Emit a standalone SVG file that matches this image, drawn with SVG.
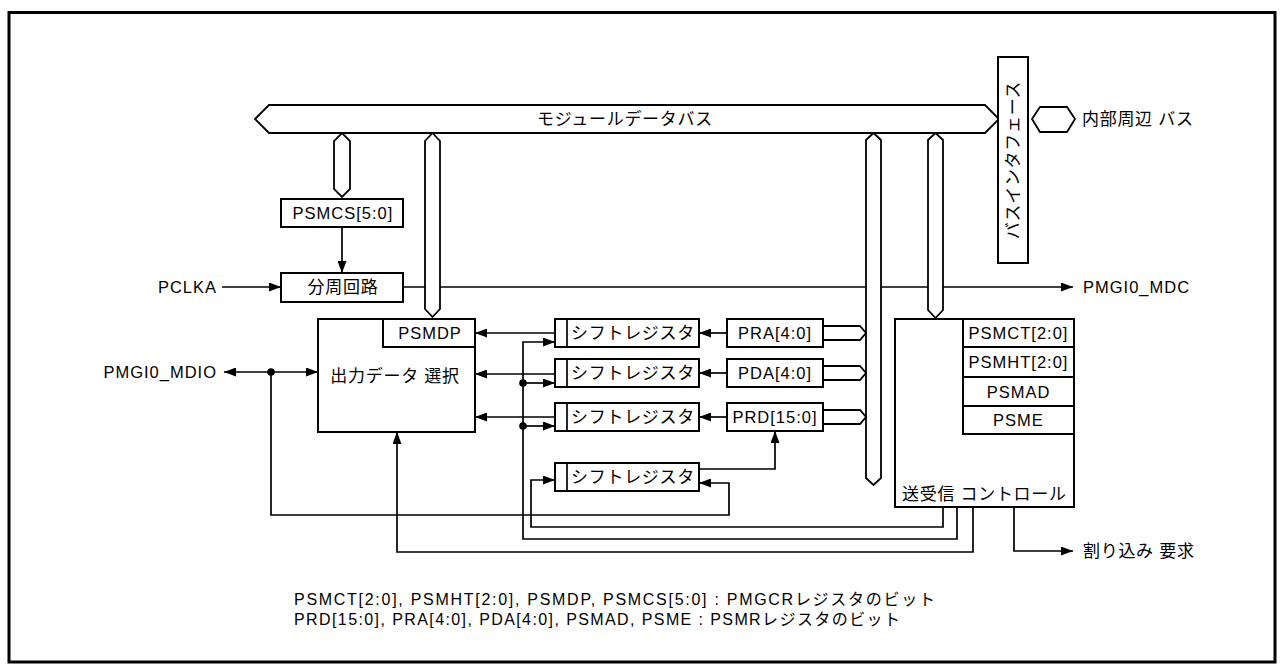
<svg xmlns="http://www.w3.org/2000/svg" width="1284" height="671" viewBox="0 0 1284 671">
<style>
  text { font-family: "Liberation Sans", "Noto Sans CJK JP", sans-serif; font-size: 16px; fill: #000; }
  .lat { font-size: 16.5px; letter-spacing: 1px; }
  .jp { font-size: 17px; letter-spacing: 0.7px; }
  .mid { text-anchor: middle; dominant-baseline: central; }
  .lft { dominant-baseline: central; }
  .box { fill: #fff; stroke: #000; stroke-width: 2; }
  .bus { fill: #fff; stroke: #000; stroke-width: 1.8; stroke-linejoin: miter; }
  .ln { fill: none; stroke: #000; stroke-width: 1.7; }
  .note { font-size: 16px; }
</style>
<defs>
  <marker id="ah" viewBox="0 0 12 9" refX="12" refY="4.5" markerWidth="12" markerHeight="9" markerUnits="userSpaceOnUse" orient="auto-start-reverse">
    <path d="M0,0 L12,4.5 L0,9 z" fill="#000"/>
  </marker>
</defs>

<rect id="frame" x="9" y="12.5" width="1266" height="649.5" fill="none" stroke="#000" stroke-width="3"/>

<g id="connectors">
  <line class="ln" x1="222" y1="287" x2="281" y2="287" marker-end="url(#ah)"/>
  <line class="ln" x1="342" y1="227" x2="342" y2="273" marker-end="url(#ah)"/>
  <line class="ln" x1="403" y1="287" x2="1073" y2="287" marker-end="url(#ah)"/>
  <line class="ln" x1="224" y1="372" x2="318" y2="372" marker-start="url(#ah)" marker-end="url(#ah)"/>
  <polyline class="ln" points="271,372 271,515 729,515 729,483 699,483" marker-end="url(#ah)"/>
  <line class="ln" x1="555" y1="333" x2="475" y2="333" marker-end="url(#ah)"/>
  <line class="ln" x1="555" y1="374" x2="475" y2="374" marker-end="url(#ah)"/>
  <line class="ln" x1="555" y1="417" x2="475" y2="417" marker-end="url(#ah)"/>
  <polyline class="ln" points="957,507 957,539 523,539 523,342 555,342" marker-end="url(#ah)"/>
  <line class="ln" x1="523" y1="383" x2="555" y2="383" marker-end="url(#ah)"/>
  <line class="ln" x1="523" y1="426" x2="555" y2="426" marker-end="url(#ah)"/>
  <polyline class="ln" points="943,507 943,527 531,527 531,480 555,480" marker-end="url(#ah)"/>
  <polyline class="ln" points="973,507 973,552 397,552 397,432" marker-end="url(#ah)"/>
  <line class="ln" x1="727" y1="333" x2="699" y2="333" marker-end="url(#ah)"/>
  <line class="ln" x1="727" y1="373" x2="699" y2="373" marker-end="url(#ah)"/>
  <line class="ln" x1="727" y1="417" x2="699" y2="417" marker-end="url(#ah)"/>
  <polyline class="ln" points="699,469 775,469 775,431" marker-end="url(#ah)"/>
  <polyline class="ln" points="1014,507 1014,551 1073,551" marker-end="url(#ah)"/>
  <circle cx="271" cy="372" r="3.8" fill="#000"/>
  <circle cx="523" cy="383" r="3.8" fill="#000"/>
  <circle cx="523" cy="426" r="3.8" fill="#000"/>
</g>

<g id="module-bus">
  <polygon class="bus" points="255,119 269,105 985,105 999,119 985,133 269,133"/>
  <text class="jp mid" x="625" y="119">モジュールデータバス</text>
</g>
<g id="bus-psmcs">
  <polygon class="bus" points="342,133 350,141 350,189 342,197 334,189 334,141"/>
</g>
<g id="bus-select">
  <polygon class="bus" points="432.5,133 440,141 440,309 432.5,317 425,309 425,141"/>
</g>
<g id="bus-regs">
  <polygon class="bus" points="873.5,133 881,140 881,478 873.5,485 866,478 866,140"/>
  <polygon class="bus" points="823,326 860,326 866,333 860,340 823,340"/>
  <polygon class="bus" points="823,366 860,366 866,373 860,380 823,380"/>
  <polygon class="bus" points="823,410 860,410 866,417 860,424 823,424"/>
</g>
<g id="bus-ctrl">
  <polygon class="bus" points="935.5,133 943,140 943,310 935.5,318 928,310 928,140"/>
</g>

<g id="bus-interface">
  <rect class="box" x="998" y="57" width="30" height="206"/>
  <text class="jp mid" transform="translate(1013,160) rotate(-90)">バスインタフェース</text>
</g>
<g id="internal-bus">
  <polygon class="bus" points="1032,119 1040,107 1067,107 1075,119 1067,132 1040,132"/>
  <text class="jp lft" x="1082" y="119">内部周辺 バス</text>
</g>

<g id="psmcs">
  <rect class="box" x="281" y="199" width="122" height="28"/>
  <text class="lat mid" x="343" y="213">PSMCS[5:0]</text>
</g>
<g id="divider">
  <rect class="box" x="281" y="273" width="122" height="29"/>
  <text class="jp mid" x="343" y="287.5">分周回路</text>
</g>
<g id="pclka">
  <text class="lat lft" x="217" y="287" text-anchor="end">PCLKA</text>
</g>
<g id="pmgi0-mdc">
  <text class="lat lft" x="1083" y="287">PMGI0_MDC</text>
</g>
<g id="pmgi0-mdio">
  <text class="lat lft" x="217" y="372" text-anchor="end">PMGI0_MDIO</text>
</g>

<g id="output-select">
  <rect class="box" x="318" y="319" width="157" height="113"/>
  <rect class="box" x="383" y="319" width="92" height="28"/>
  <text class="lat mid" x="430" y="333">PSMDP</text>
  <text class="jp mid" x="395" y="376">出力データ 選択</text>
</g>

<g id="shift1">
  <rect class="box" x="555" y="319" width="144" height="28"/>
  <line class="ln" x1="567" y1="319" x2="567" y2="347"/>
  <text class="jp mid" x="633" y="333">シフトレジスタ</text>
</g>
<g id="shift2">
  <rect class="box" x="555" y="359" width="144" height="28"/>
  <line class="ln" x1="567" y1="359" x2="567" y2="387"/>
  <text class="jp mid" x="633" y="373">シフトレジスタ</text>
</g>
<g id="shift3">
  <rect class="box" x="555" y="403" width="144" height="28"/>
  <line class="ln" x1="567" y1="403" x2="567" y2="431"/>
  <text class="jp mid" x="633" y="417">シフトレジスタ</text>
</g>
<g id="shift4">
  <rect class="box" x="555" y="463" width="144" height="28"/>
  <line class="ln" x1="567" y1="463" x2="567" y2="491"/>
  <text class="jp mid" x="633" y="477">シフトレジスタ</text>
</g>

<g id="pra">
  <rect class="box" x="727" y="319" width="96" height="28"/>
  <text class="lat mid" x="775" y="333">PRA[4:0]</text>
</g>
<g id="pda">
  <rect class="box" x="727" y="359" width="96" height="28"/>
  <text class="lat mid" x="775" y="373">PDA[4:0]</text>
</g>
<g id="prd">
  <rect class="box" x="727" y="403" width="96" height="28"/>
  <text class="lat mid" x="775" y="417">PRD[15:0]</text>
</g>

<g id="control">
  <rect class="box" x="895" y="319" width="179" height="188"/>
  <rect class="box" x="963" y="319" width="111" height="28"/>
  <rect class="box" x="963" y="347" width="111" height="30"/>
  <rect class="box" x="963" y="377" width="111" height="29"/>
  <rect class="box" x="963" y="406" width="111" height="28"/>
  <text class="lat mid" x="1018.5" y="333">PSMCT[2:0]</text>
  <text class="lat mid" x="1018.5" y="362">PSMHT[2:0]</text>
  <text class="lat mid" x="1018.5" y="391.5">PSMAD</text>
  <text class="lat mid" x="1018.5" y="420">PSME</text>
  <text class="jp lft" x="902" y="494">送受信 コントロール</text>
</g>

<g id="interrupt">
  <text class="jp lft" x="1083" y="551">割り込み 要求</text>
</g>

<g id="notes">
  <text class="note" x="294" y="605" textLength="641" lengthAdjust="spacing">PSMCT[2:0], PSMHT[2:0], PSMDP, PSMCS[5:0] : PMGCRレジスタのビット</text>
  <text class="note" x="294" y="625" textLength="606" lengthAdjust="spacing">PRD[15:0], PRA[4:0], PDA[4:0], PSMAD, PSME : PSMRレジスタのビット</text>
</g>
</svg>
